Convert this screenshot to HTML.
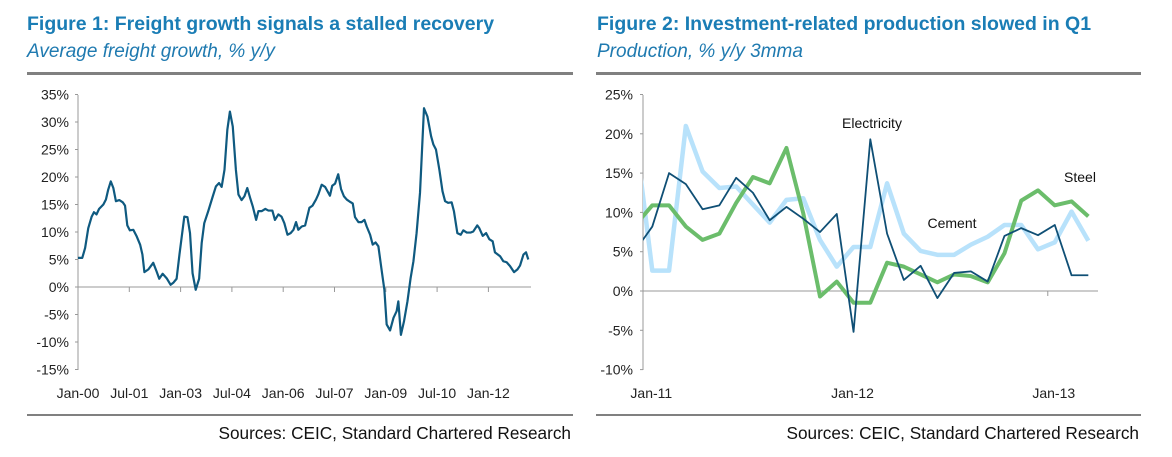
<!DOCTYPE html>
<html><head><meta charset="utf-8"><style>
body{margin:0;background:#fff;width:1172px;height:457px;overflow:hidden;font-family:"Liberation Sans",Arial,sans-serif}
svg{display:block}
</style></head><body>
<svg id="s" width="1172" height="457">
<text x="27" y="30" font-size="19.5" font-weight="bold" fill="#1a7db5">Figure 1: Freight growth signals a stalled recovery</text>
<text x="27" y="57" font-size="19" font-style="italic" fill="#1f7ab0">Average freight growth, % y/y</text>
<text x="597" y="30" font-size="19.5" font-weight="bold" fill="#1a7db5">Figure 2: Investment-related production slowed in Q1</text>
<text x="597" y="57" font-size="19" font-style="italic" fill="#1f7ab0">Production, % y/y 3mma</text>
<rect x="27" y="72" width="546" height="3" fill="#808080"/>
<rect x="596" y="72" width="545" height="3" fill="#808080"/>
<rect x="27" y="414" width="546" height="2" fill="#808080"/>
<rect x="596" y="414" width="545" height="2" fill="#808080"/>
<text x="571" y="439" font-size="17.2" text-anchor="end" fill="#111">Sources: CEIC, Standard Chartered Research</text>
<text x="1139" y="439" font-size="17.2" text-anchor="end" fill="#111">Sources: CEIC, Standard Chartered Research</text>
<defs><clipPath id="c2"><rect x="643" y="80" width="460" height="300"/></clipPath></defs>
<g id="g1"></g><g id="g2"></g>
</svg>
<script>
// Figure 1 data (months since Jan-00, % y/y)
const f1Months=[0,1.5,2.5,3.6,4.8,5.6,6.5,7.4,8.9,9.8,10.6,11.5,12.4,13.3,14.5,15.7,16.5,17.3,18.2,19.4,20.6,21.8,22.6,23.3,24.7,26.4,27.6,28.5,29.7,31.1,32.5,33.5,34.6,35.6,37.3,38.4,39.3,40.2,41.3,42.5,43.4,44.3,45.7,47.3,48.4,49.5,50.4,51.4,52.4,53.3,54.3,55.4,56.3,57.4,58.4,59.4,60.4,61.3,62.5,63.3,64.5,65.7,66.8,68.2,69.1,70.3,71.4,72.4,73.5,74.6,75.6,76.5,77.3,78.5,79.7,81.2,82.3,83.5,84.3,85.5,86.7,88.4,89.2,90.2,91.3,92.3,93.3,94.3,95.4,96.4,97.2,98.4,99.5,100.5,101.3,102.5,103.4,104.4,105.4,106.5,107.5,108.3,109.5,110.7,111.8,112.4,113.3,114.4,115.6,116.7,117.7,118.8,120,121.4,122.6,123.9,124.7,125.6,126.8,127.9,128.8,129.9,131.1,131.9,133.1,134.3,135.2,136.4,137.8,138.7,140.1,140.8,142,143.2,144.3,145.5,146.3,148.1,149.2,150.4,151.6,153,154.2,155.1,156.3,157.2,158];
const f1Values=[5.3,5.3,7.1,10.7,12.8,13.6,13.2,14.2,15,15.9,17.7,19.2,18,15.6,15.8,15.4,14.8,11.2,10.3,10.4,9.2,7.7,5.9,2.7,3.2,4.4,2.8,1.5,2.4,1.6,0.4,0.8,1.5,5.9,12.8,12.7,9.8,2.5,-0.5,1.5,8,11.6,13.8,16.5,18.3,18.9,18.2,21.3,28.6,31.9,29.2,21.3,16.8,15.8,16.5,18,16.2,14.7,12.2,13.8,13.8,14.2,13.9,13.9,12.2,13.2,12.8,11.6,9.5,9.8,10.4,11.8,10.4,11,11.2,14.4,14.8,15.9,16.8,18.6,18.2,16.6,18.4,18.8,20.5,17.8,16.5,15.9,15.5,15.2,12.7,11.8,11.8,12.2,11,9.5,7.7,8.1,7.4,3.2,-0.5,-6.8,-7.9,-5.6,-4.4,-2.6,-8.7,-6.2,-2.6,1.6,4.7,9.8,17.1,32.5,31,27.4,25.9,25,21.3,17.4,15.6,15.3,15.4,13.8,9.8,9.5,10.3,9.9,9.9,10.1,11.2,10.7,9.3,9.8,8.7,8.3,6.3,5.6,4.7,4.5,3.8,2.7,3.2,3.9,5.9,6.3,5];
const f1YTicks=[35,30,25,20,15,10,5,0,-5,-10,-15];
const f1XLabels=["Jan-00","Jul-01","Jan-03","Jul-04","Jan-06","Jul-07","Jan-09","Jul-10","Jan-12"];
const f1XLabelMonths=[0,18,36,54,72,90,108,126,144];
// Figure 2 data (index -1 = Dec-10, 0 = Jan-11)
const f2Index=[-1,0,1,2,3,4,5,6,7,8,9,10,11,12,13,14,15,16,17,18,19,20,21,22,23,24,25,26];
const electricity=[5.2,8.2,15,13.6,10.4,10.9,14.4,12.5,9,10.7,9.2,7.5,9.8,-5.2,19.3,7.3,1.4,3.2,-0.9,2.3,2.5,1.2,7,8,7.1,8.4,2,2];
const cement=[19.7,2.6,2.6,21,15.2,13.1,13.3,11,8.7,11.6,11.8,6.5,3.1,5.6,5.6,13.7,7.3,5.1,4.6,4.6,5.9,6.9,8.4,8.4,5.3,6.2,10.1,6.4];
const steel=[8.4,10.9,10.9,8.2,6.5,7.3,11.2,14.5,13.7,18.2,9.9,-0.7,1.2,-1.5,-1.5,3.6,3.1,2.1,1.1,2.1,1.9,1.1,4.8,11.5,12.8,10.9,11.4,9.5];
const f2YTicks=[25,20,15,10,5,0,-5,-10];
const f2XLabels=["Jan-11","Jan-12","Jan-13"];
const f2XLabelIdx=[0,12,24];

const NS="http://www.w3.org/2000/svg";
function mk(parent,tag,attrs,text){const e=document.createElementNS(NS,tag);for(const k in attrs)e.setAttribute(k,attrs[k]);if(text!==undefined)e.textContent=text;parent.appendChild(e);return e;}

// Figure 1
const g1=document.getElementById('g1');
const x1=m=>78+m*2.85, y1=v=>287-v*5.5;
const ax1=mk(g1,'line',{x1:78,y1:95,x2:78,y2:370,stroke:'#999'});


const bx1=mk(g1,'line',{x1:78,y1:y1(0),x2:531,y2:y1(0),stroke:'#999'});


f1YTicks.forEach(v=>{
  mk(g1,'line',{x1:75,y1:y1(v),x2:78,y2:y1(v),stroke:'#999'});
  const t=mk(g1,'text',{x:69,y:y1(v)+5,'font-size':14,'text-anchor':'end',fill:'#222'},v+'%');
  
  
});
f1XLabelMonths.forEach((m,i)=>{
  if(i>0)mk(g1,'line',{x1:x1(m),y1:y1(0),x2:x1(m),y2:y1(0)+5,stroke:'#999'});
  const t=mk(g1,'text',{x:x1(m),y:398,'font-size':14,'text-anchor':'middle',fill:'#222'},f1XLabels[i]);
  
  
});
const p1=mk(g1,'polyline',{points:f1Months.map((m,i)=>x1(m)+','+y1(f1Values[i])).join(' '),fill:'none',stroke:'#0f5a80','stroke-width':2.2,'stroke-linejoin':'round'});



// Figure 2
const g2=document.getElementById('g2');
const x2=k=>652.3+k*16.77, y2=v=>291-v*7.86;
const ax2=mk(g2,'line',{x1:643,y1:95,x2:643,y2:370,stroke:'#999'});


const bx2=mk(g2,'line',{x1:643,y1:y2(0),x2:1098,y2:y2(0),stroke:'#999'});


f2YTicks.forEach(v=>{
  mk(g2,'line',{x1:640,y1:y2(v),x2:643,y2:y2(v),stroke:'#999'});
  const t=mk(g2,'text',{x:633,y:y2(v)+5,'font-size':14,'text-anchor':'end',fill:'#222'},v+'%');
  
  
});
f2XLabelIdx.forEach((k,i)=>{
  if(i>0)mk(g2,'line',{x1:x2(k)-7,y1:y2(0),x2:x2(k)-7,y2:y2(0)+5,stroke:'#999'});
  const t=mk(g2,'text',{x:x2(k)-1,y:398,'font-size':14,'text-anchor':'middle',fill:'#222'},f2XLabels[i]);
  
  
});
const cl=mk(g2,'g',{'clip-path':'url(#c2)'});
function series(vals,color,w,name){
  const p=mk(cl,'polyline',{points:f2Index.map((k,i)=>x2(k)+','+y2(vals[i])).join(' '),fill:'none',stroke:color,'stroke-width':w,'stroke-linejoin':'round'});
  
  
}
series(cement,'#b8e2fb',4.5,'cement-line');
series(steel,'#6bbd6b',4,'steel-line');
series(electricity,'#0f4f75',1.8,'electricity-line');
const l1=mk(g2,'text',{x:872,y:128,'font-size':14,'text-anchor':'middle',fill:'#111'},'Electricity');


const l2=mk(g2,'text',{x:952,y:228,'font-size':14,'text-anchor':'middle',fill:'#111'},'Cement');


const l3=mk(g2,'text',{x:1080,y:182,'font-size':14,'text-anchor':'middle',fill:'#111'},'Steel');


</script>
</body></html>
